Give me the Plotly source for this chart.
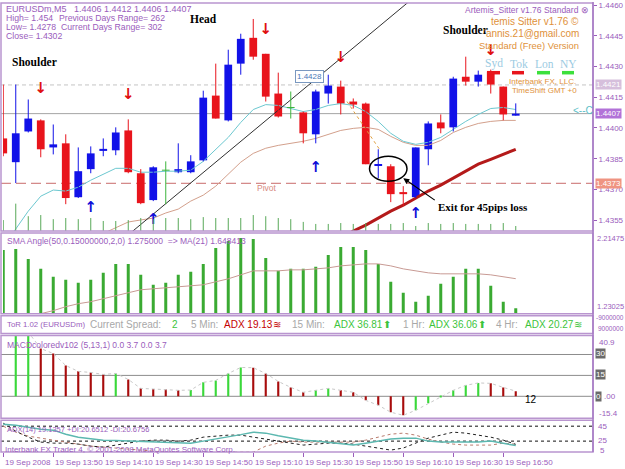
import plotly.graph_objects as go

# ---------------- data ----------------
bar_idx = list(range(42))
time_ticks = [0, 4, 8, 12, 16, 20, 24, 28, 32, 36, 40]
time_labels = ["19 Sep 2008", "19 Sep 13:50", "19 Sep 14:10", "19 Sep 14:30", "19 Sep 14:50",
               "19 Sep 15:10", "19 Sep 15:30", "19 Sep 15:50", "19 Sep 16:10", "19 Sep 16:30",
               "19 Sep 16:50"]

open_ = [1.43949, 1.43833, 1.43983, 1.44037, 1.43905, 1.43925, 1.43662, 1.43799, 1.43888, 1.43891,
         1.43988, 1.43779, 1.43648, 1.43794, 1.43784, 1.43784, 1.43842, 1.44158, 1.44037, 1.44314,
         1.44440, 1.44362, 1.44168, 1.44100, 1.44076, 1.43969, 1.44168, 1.44202, 1.44129, 1.44119,
         1.43816, 1.43813, 1.43687, 1.43662, 1.43896, 1.44027, 1.44003, 1.44250, 1.44226, 1.44275,
         1.44202, 1.4406]
high = [1.44212, 1.44212, 1.44139, 1.44042, 1.44017, 1.43969, 1.43905, 1.43910, 1.43949, 1.44003,
        1.44042, 1.43799, 1.43813, 1.43837, 1.43925, 1.43867, 1.44182, 1.44314, 1.44382, 1.44460,
        1.44532, 1.44362, 1.44270, 1.44178, 1.44080, 1.44187, 1.44260, 1.44231, 1.44144, 1.44124,
        1.43896, 1.43823, 1.43716, 1.43905, 1.44032, 1.44066, 1.44250, 1.44348, 1.44280, 1.44285,
        1.44202, 1.4412]
low = [1.43862, 1.43731, 1.43978, 1.43857, 1.43871, 1.43628, 1.43658, 1.43779, 1.43862, 1.43867,
       1.43779, 1.43628, 1.43643, 1.43628, 1.43779, 1.43779, 1.43837, 1.44046, 1.44032, 1.44260,
       1.44333, 1.44129, 1.44051, 1.44046, 1.43925, 1.43925, 1.44119, 1.44066, 1.44095, 1.43823,
       1.43755, 1.43638, 1.43619, 1.43658, 1.43818, 1.43974, 1.43983, 1.44207, 1.44202, 1.44168,
       1.44037, 1.4406]
close = [1.43876, 1.43974, 1.44046, 1.43896, 1.43920, 1.43658, 1.43789, 1.43876, 1.43898, 1.43978,
         1.43784, 1.43633, 1.43808, 1.43794, 1.43799, 1.43837, 1.44148, 1.44046, 1.44309, 1.44435,
         1.44348, 1.44153, 1.44056, 1.44100, 1.43974, 1.44178, 1.44207, 1.44119, 1.44114, 1.43823,
         1.43823, 1.43677, 1.43677, 1.43905, 1.44022, 1.43998, 1.44241, 1.44226, 1.44260, 1.44212,
         1.44066, 1.4407]
volume = [48, 120, 65, 70, 52, 57, 52, 57, 44, 44, 48, 57, 52, 57, 57, 52, 61, 57, 57, 57,
          70, 65, 57, 52, 40, 31, 31, 35, 31, 35, 31, 31, 35, 22, 35, 31, 35, 31, 31, 31, 35, 22]

ma_fast = [1.4342, 1.43507, 1.43594, 1.43667, 1.43697, 1.43692, 1.43711, 1.43745, 1.43774, 1.43803,
           1.43803, 1.43784, 1.43784, 1.43789, 1.43789, 1.43794, 1.43837, 1.43896, 1.43954, 1.44027,
           1.44090, 1.44114, 1.44110, 1.44095, 1.44080, 1.44090, 1.44110, 1.44119, 1.44110, 1.44080,
           1.44032, 1.43974, 1.43935, 1.43920, 1.43930, 1.43954, 1.43993, 1.44032, 1.44066, 1.44095,
           1.44100, 1.44090]
ma_slow = [None] * 8 + [1.43485, 1.43512, 1.43541, 1.43551, 1.43560, 1.43585, 1.43604, 1.43643,
                        1.43672, 1.43716, 1.43774, 1.43833, 1.43876, 1.43901, 1.43915, 1.43925,
                        1.43935, 1.43949, 1.43969, 1.43988, 1.43998, 1.44003, 1.43993, 1.43959,
                        1.43930, 1.43915, 1.43915, 1.43939, 1.43978, 1.44003, 1.44022, 1.44032,
                        1.44037, 1.44037]
ma_trend = [None] * 27 + [1.4346, 1.43497, 1.43526, 1.43560, 1.43594, 1.43623, 1.43658, 1.43692,
                          1.43721, 1.43755, 1.43789, 1.43823, 1.43847, 1.43871, 1.43896]

trend_k = [9.5, 32.5]
trend_p = [1.43453, 1.44619]
exit_path_k = [27.5, 30.1]
exit_path_p = [1.44129, 1.43896]

sell_k = [3, 10, 21, 27, 39]
sell_p = [1.44187, 1.44158, 1.44479, 1.44338, 1.44372]
buy_k = [7, 12, 25, 33]
buy_p = [1.43609, 1.43551, 1.43803, 1.43580]

pivot_level = 1.4373
open_level = 1.4421
bid_level = 1.4407
price_ticks = [1.4460, 1.4445, 1.4430, 1.4415, 1.4400, 1.4385, 1.4370, 1.4355]

sma_angle = [2.0128, 2.0254, 1.8992, 1.7730, 1.6720, 1.6341, 1.5963, 1.6341, 1.7225, 1.8361,
             1.8361, 1.6972, 1.5710, 1.5963, 1.6972, 1.7351, 1.8361, 2.0380, 2.1264, 2.1643,
             2.1516, 1.9118, 1.7477, 1.7730, 1.7730, 1.7982, 1.9497, 2.0507, 2.0507, 2.0128,
             1.8361, 1.6089, 1.4701, 1.3565, 1.4322, 1.5837, 1.6720, 1.7730, 1.7730, 1.5585,
             1.3565, 1.275]
sma_ma21 = [None, None, None, 1.2050, 1.2429, 1.2934, 1.3312, 1.3565, 1.3943, 1.4322, 1.4701,
            1.5079, 1.5206, 1.5332, 1.5458, 1.5585, 1.5710, 1.6089, 1.6468, 1.6972, 1.7477,
            1.7477, 1.7477, 1.7604, 1.7604, 1.7730, 1.7856, 1.8108, 1.8235, 1.8361, 1.8361,
            1.8108, 1.7730, 1.7477, 1.7225, 1.7099, 1.7099, 1.7099, 1.7099, 1.6972, 1.6720,
            1.648413]

macd = [None, 44, 46, 34.3, 30.7, 22.1, 17.9, 17.1, 15.7, 16.4, 12.1, 5.7, 5.3, 5.0, 4.3, 4.5,
        10.0, 11.4, 16.4, 20.7, 20.5, 16.4, 10.7, 6.4, 2.9, 4.3, 5.7, 4.3, 2.9, -2.9, -6.4,
        -11.4, -13.6, -10.0, -5.0, -0.5, 4.3, 7.9, 9.6, 9.3, 6.4, 3.7]
macd_levels = [30, 15, 0]

adx = [47.7, 46.3, 43.7, 41, 39.7, 34.3, 30.3, 28.3, 26.3, 25.7, 25, 25, 24.3, 23.7, 23, 22.3,
       25, 27.7, 30.3, 33.7, 37, 35.7, 32.3, 29, 26.3, 25, 23, 21, 19.7, 22.3, 25, 27.7, 29, 29,
       25, 23.7, 23.7, 23.7, 23.7, 25, 22, 19.1]
plus_di = [49, 38.3, 30.3, 23.7, 22.3, 22.3, 21, 18.3, 17, 19.7, 22.3, 25, 26.3, 26.3, 25, 26.3,
           30.3, 31.7, 33, 33, 30.3, 27.7, 25, 22.3, 19.7, 21, 22.3, 22.3, 21, 18.3, 15.7, 13,
           15.7, 22.3, 29, 33, 37, 35.7, 33, 30.3, 26.3, 20.7]
minus_di = [45, 37, 31.7, 29, 26.3, 23.7, 21, 18.3, 17, 15.7, 14.3, 13, 11.7, 10.3, 10.3, 10.3,
            10.3, 10.3, 10.3, 10.3, 10.3, 18.3, 22.3, 25, 23.7, 23.7, 23.7, 23.7, 23.7, 26.3,
            30.3, 34.3, 35.7, 33, 27.7, 23.7, 21, 19.7, 19.7, 19.7, 22.3, 20.7]
adx_levels = [45, 25]

# ---------------- styling ----------------
W, H = 625, 469
def PX(x):
    return x / W
def PY(y):
    return 1 - y / H

SANS = "Liberation Sans"
SERIF = "Liberation Serif"
PURPLE = "#9a5cbc"
BORDER = "#b995cf"
BLUE = "#1212e8"
RED = "#e8141c"
DOJI = "#3cb43c"
ORANGE = "#e0913a"
GRAYT = "#a8a8a8"
GREENT = "#3cc43c"
XR = [-0.02, 47.18]
BODY_W = 0.62

fig = go.Figure()

# volume (thin lines at bottom of price pane)
vx, vy = [], []
for k, v in zip(bar_idx, volume):
    vx += [k, k, None]
    vy += [0, v, None]
fig.add_trace(go.Scatter(x=vx, y=vy, mode="lines", line=dict(color="#58a858", width=1),
                         xaxis="x", yaxis="y5", hoverinfo="skip"))

# moving averages
fig.add_trace(go.Scatter(x=bar_idx, y=ma_slow, mode="lines", line=dict(color="#d3a08c", width=1),
                         xaxis="x", yaxis="y", connectgaps=False))
fig.add_trace(go.Scatter(x=bar_idx, y=ma_fast, mode="lines", line=dict(color="#6cc8d0", width=1),
                         xaxis="x", yaxis="y"))
fig.add_trace(go.Scatter(x=bar_idx, y=ma_trend, mode="lines", line=dict(color="#b41a1a", width=3),
                         xaxis="x", yaxis="y"))
fig.add_trace(go.Scatter(x=trend_k, y=trend_p, mode="lines", line=dict(color="#303030", width=1),
                         xaxis="x", yaxis="y"))
fig.add_trace(go.Scatter(x=exit_path_k, y=exit_path_p, mode="lines",
                         line=dict(color="#e0a040", width=1, dash="dot"), xaxis="x", yaxis="y"))

# candles
wicks = {"b": ([], []), "r": ([], []), "g": ([], [])}
body_x, body_base, body_h, body_c = [], [], [], []
doji_x, doji_y = [], []
for k, o, h, l, c in zip(bar_idx, open_, high, low, close):
    if c > o:
        key, col = "b", BLUE
    elif c < o:
        key, col = "r", RED
    else:
        key, col = "g", DOJI
    wicks[key][0].extend([k, k, None])
    wicks[key][1].extend([l, h, None])
    if key == "g":
        doji_x.extend([k - BODY_W / 2, k + BODY_W / 2, None])
        doji_y.extend([o, o, None])
    else:
        body_x.append(k)
        body_base.append(min(o, c))
        body_h.append(abs(c - o))
        body_c.append(col)
for key, col in (("b", BLUE), ("r", RED), ("g", DOJI)):
    fig.add_trace(go.Scatter(x=wicks[key][0], y=wicks[key][1], mode="lines",
                             line=dict(color=col, width=1), xaxis="x", yaxis="y"))
fig.add_trace(go.Bar(x=body_x, y=body_h, base=body_base, width=BODY_W,
                     marker=dict(color=body_c, line=dict(width=0)), xaxis="x", yaxis="y"))
fig.add_trace(go.Scatter(x=doji_x, y=doji_y, mode="lines", line=dict(color=DOJI, width=1),
                         xaxis="x", yaxis="y"))

# signal arrows
fig.add_trace(go.Scatter(x=sell_k, y=sell_p, mode="text", text=["<b>\u2193</b>"] * len(sell_k),
                         textfont=dict(color="#e01010", size=15, family="DejaVu Sans"),
                         xaxis="x", yaxis="y"))
fig.add_trace(go.Scatter(x=buy_k, y=buy_p, mode="text", text=["<b>\u2191</b>"] * len(buy_k),
                         textfont=dict(color="#1010d8", size=15, family="DejaVu Sans"),
                         xaxis="x", yaxis="y"))

# SMA angle pane
fig.add_trace(go.Bar(x=bar_idx, y=sma_angle, width=0.24, marker=dict(color="#3aaa32", line=dict(width=0)),
                     xaxis="x2", yaxis="y2"))
fig.add_trace(go.Scatter(x=bar_idx, y=sma_ma21, mode="lines", line=dict(color="#c89a94", width=1),
                         xaxis="x2", yaxis="y2"))

# MACD pane
macd_cols = []
prev = None
for v in macd:
    if v is None or prev is None or v > prev:
        macd_cols.append("#3ad83a")
    else:
        macd_cols.append("#a80c0c")
    prev = v
fig.add_trace(go.Bar(x=bar_idx, y=macd, width=0.17, marker=dict(color=macd_cols, line=dict(width=0)),
                     xaxis="x3", yaxis="y3"))
fig.add_trace(go.Scatter(x=bar_idx, y=macd, mode="lines", line=dict(color="#c8c8c8", width=1, dash="dot"),
                         xaxis="x3", yaxis="y3"))

# ADX pane
fig.add_trace(go.Scatter(x=bar_idx, y=minus_di, mode="lines", line=dict(color="#b87a6c", width=1, dash="dot"),
                         xaxis="x4", yaxis="y4"))
fig.add_trace(go.Scatter(x=bar_idx, y=plus_di, mode="lines", line=dict(color="#202020", width=1, dash="dot"),
                         xaxis="x4", yaxis="y4"))
fig.add_trace(go.Scatter(x=bar_idx, y=adx, mode="lines", line=dict(color="#5cb8b0", width=1.5),
                         xaxis="x4", yaxis="y4"))

# ---------------- shapes ----------------
shapes = []
def hline(yref, yv, color, width=1, dash="solid"):
    shapes.append(dict(type="line", xref="paper", x0=PX(1), x1=PX(593), yref=yref, y0=yv, y1=yv,
                       line=dict(color=color, width=width, dash=dash), layer="below"))

hline("y", open_level, "#c4c4c4", 1, "4px,3px")
hline("y", bid_level, "#a4a4a4", 1)
hline("y", pivot_level, "#c86a6a", 1, "10px,5px")
for lv in macd_levels:
    hline("y3", lv, "#8c8c8c", 1)
for lv in adx_levels:
    hline("y4", lv, "#101010", 1, "dot")

# ellipse around exit
shapes.append(dict(type="circle", xref="x", yref="y", x0=29.3, x1=32.3, y0=1.43740, y1=1.43862,
                   line=dict(color="black", width=1.5)))

# pane frames
for top, bot in ((1, 230), (232, 313), (315, 333), (335, 418), (420, 452)):
    shapes.append(dict(type="rect", xref="paper", yref="paper", x0=PX(1), x1=PX(593),
                       y0=PY(bot), y1=PY(top), line=dict(color=BORDER, width=1.5)))
shapes.append(dict(type="line", xref="paper", yref="paper", x0=PX(593), x1=PX(593), y0=PY(452), y1=PY(0),
                   line=dict(color="#a67ac4", width=1.5)))

# session bars
for x0, x1, col in ((487, 500, "#e8141c"), (512, 524, "#e8141c"), (537, 550, "#3ce03c"), (562, 574, "#3ce03c")):
    shapes.append(dict(type="line", xref="paper", yref="paper", x0=PX(x0), x1=PX(x1), y0=PY(71), y1=PY(71),
                       line=dict(color=col, width=3.5)))

# ---------------- annotations ----------------
ann = []
def txt(x, y, s, size=8.5, color=PURPLE, anchor="left", family=SANS, **kw):
    ann.append(dict(x=PX(x), y=PY(y), xref="paper", yref="paper", text=s, showarrow=False,
                    xanchor=anchor, yanchor="middle", font=dict(size=size, color=color, family=family), **kw))

txt(4, 7, "EURUSDm,M5   1.4406 1.4412 1.4406 1.4407", 9)
txt(4, 16, "High= 1.454", 8.7)
txt(57, 16, "Previous Days Range= 262", 8.7)
txt(4, 25, "Low= 1.4278", 8.7)
txt(59, 25, "Current Days Range= 302", 8.7)
txt(4, 34, "Close= 1.4302", 8.7)

txt(10, 60, "<b>Shoulder</b>", 11.5, "black", family=SERIF)
txt(188, 17, "<b>Head</b>", 11.5, "black", family=SERIF)
txt(441, 28, "<b>Shoulder</b>", 11.5, "black", family=SERIF)
txt(436, 206, "<b>Exit for 45pips loss</b>", 11, "black", family=SERIF)
txt(255, 187, "Pivot", 8.5, "#d88a80")
txt(309, 75, "1.4428", 8, "#4a78b8", anchor="center", bordercolor="#7a98c0", borderwidth=1,
    borderpad=1, bgcolor="white")

txt(591, 8, "Artemis_Sitter v1.76 Standard \u2297", 8.5, PURPLE, anchor="right")
txt(581, 20, "temis Sitter v1.76 \u00a9", 10, ORANGE, anchor="right")
txt(581, 32, "'annis.21@gmail.com", 10, ORANGE, anchor="right")
txt(581, 43.5, "Standard (Free) Version", 9.4, ORANGE, anchor="right")
for s, cx in (("Syd", 494), ("Tok", 519), ("Lon", 544), ("NY", 568)):
    txt(cx, 62, s, 11.5, "#9ccbe2", anchor="center", family=SERIF)
txt(578, 80, "Interbank FX, LLC.", 8, ORANGE, anchor="right")
txt(579, 89, "TimeShift GMT +0", 8, ORANGE, anchor="right")
txt(595, 109, "&lt;--C", 10, "#5cc0c8", anchor="right")

# highlighted price labels
for lv, bg in ((open_level, "#d6bfdc"), (bid_level, "#b272d8"), (pivot_level, "#ef9482")):
    ann.append(dict(x=PX(595), y=lv, xref="paper", yref="y", text=f"{lv:.4f}", showarrow=False,
                    xanchor="left", yanchor="middle", bgcolor=bg, borderpad=0,
                    font=dict(size=8, color="white", family=SANS)))

# exit arrow
ann.append(dict(x=32.0, y=1.43755, xref="x", yref="y", ax=33, ay=23, axref="pixel", ayref="pixel",
                text="", showarrow=True, arrowhead=2, arrowsize=1, arrowwidth=1.2, arrowcolor="black"))

# pane headers
txt(5, 240, "SMA Angle(50,0.15000000,2,0) 1.275000  =&gt; MA(21) 1.648413", 8.5)
txt(595, 238, "2.21475", 7.5)
txt(595, 306, "1.23025", 7.5)

txt(5, 324, "ToR 1.02 (EURUSDm)", 7.8)
for s, x, col in (("Current Spread:", 88, GRAYT), ("2", 170, GREENT), ("5 Min:", 189, GRAYT),
                  ("ADX 19.13", 222, "#c40000"), ("\u224b", 271, "#c40000"), ("15 Min:", 290, GRAYT),
                  ("ADX 36.81", 332, GREENT), ("\u2b06", 381, GREENT), ("1 Hr:", 401, GRAYT),
                  ("ADX 36.06", 427, GREENT), ("\u2b06", 476, GREENT), ("4 Hr:", 494, GRAYT),
                  ("ADX 20.27", 523, GREENT), ("\u224b", 572, GREENT)):
    txt(x, 324, s, 10, col)
txt(594, 317, "-9000000", 6.5)
txt(596, 328, "9000000", 6.5)

txt(5, 344, "MACDcoloredv102 (5,13,1) 0.0 3.7 0.0 3.7", 8.5)
txt(597, 342, "40.9", 8)
txt(595, 353, "30", 8, "white", bgcolor="#6a6a6a", borderpad=0)
txt(595, 374, "15", 8, "white", bgcolor="#6a6a6a", borderpad=0)
txt(595, 396, "0", 8, "white", bgcolor="#6a6a6a", borderpad=0)
txt(602, 396, ".00", 8)
txt(597, 413, "-15.4", 8)
txt(523, 399, "12", 10, "black")

txt(5, 429, "ADX(14) 19.1357 +DI:20.6512 -DI:20.6756", 7.5)
txt(3, 449, "Interbank FX Trader 4, \u00a9 2001-2008 MetaQuotes Software Corp.", 8)
txt(596, 426, "45", 8)
txt(596, 440, "25", 8)
txt(598, 450, "5", 8)

for k, lab in zip(time_ticks, time_labels):
    ann.append(dict(x=k, y=PY(462), xref="x4", yref="paper", text=lab, showarrow=False,
                    xanchor="left", yanchor="middle", font=dict(size=8, color=PURPLE, family=SANS)))

# ---------------- layout ----------------
xd = [PX(3), PX(593)]
fig.update_layout(
    width=W, height=H, margin=dict(l=0, r=0, t=0, b=0),
    paper_bgcolor="white", plot_bgcolor="white", showlegend=False, barmode="overlay",
    xaxis=dict(domain=xd, range=XR, anchor="y", visible=False),
    xaxis2=dict(domain=xd, range=XR, anchor="y2", visible=False, matches="x"),
    xaxis3=dict(domain=xd, range=XR, anchor="y3", visible=False, matches="x"),
    xaxis4=dict(domain=xd, range=XR, anchor="y4", matches="x", showticklabels=False, ticks="outside",
                tickvals=time_ticks, ticklen=4, tickcolor=PURPLE, showgrid=False, zeroline=False,
                showline=False),
    yaxis=dict(domain=[PY(230), PY(1)], range=[1.43497, 1.44610], side="right", anchor="x",
               tickvals=price_ticks, ticktext=[f"{v:.4f}" for v in price_ticks], ticks="outside",
               ticklen=3, tickcolor=PURPLE, tickfont=dict(family=SANS, size=8, color=PURPLE),
               ticklabeloverflow="allow", showgrid=False, zeroline=False, showline=False),
    yaxis5=dict(overlaying="y", range=[0, 1000], visible=False, anchor="x"),
    yaxis2=dict(domain=[PY(313), PY(232)], range=[1.205, 2.2274], anchor="x2", visible=False),
    yaxis3=dict(domain=[PY(418), PY(335)], range=[-15.71, 43.57], anchor="x3", visible=False),
    yaxis4=dict(domain=[PY(452), PY(420)], range=[10.33, 53.0], anchor="x4", visible=False),
    shapes=shapes, annotations=ann,
)

fig.write_html("out.html")
